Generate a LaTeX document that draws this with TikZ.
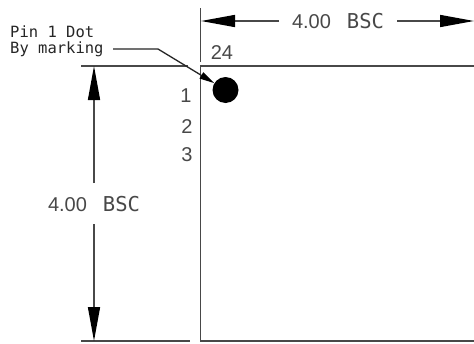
\documentclass[tikz,border=0pt]{standalone}
\usepackage{fontspec}
\setmainfont{Liberation Sans}
\newfontfamily\plotfont{DejaVu Sans Mono}
\usetikzlibrary{arrows.meta}
\definecolor{inkgray}{HTML}{484848}
\tikzset{
  outline/.style={draw=inkgray,line width=1.7pt},
  dimline/.style={
    draw=inkgray,
    line width=1.5pt,
    -{Triangle[length=34pt,width=12pt,color=black]},
  },
  leader/.style={
    draw=black!85,
    line width=1.3pt,
    -{Triangle[length=15pt,width=7pt,color=black]},
  },
  dimtext/.style={text=inkgray,font=\fontsize{20}{20}\selectfont,inner sep=0pt},
  pintext/.style={text=inkgray,font=\fontsize{20}{20}\selectfont,inner sep=0pt},
  notetext/.style={text=black!85,font=\plotfont\fontsize{15.5}{15.5}\selectfont,inner sep=0pt,anchor=west},
  pindot/.style={circle,fill=black,minimum size=26pt,inner sep=0pt},
}
\newcommand{\bscdim}{4.00\hspace{16pt}{\plotfont\fontsize{20.5}{20.5}\selectfont BSC}}

\begin{document}
\begin{tikzpicture}[x=1pt,y=-1pt]
    \useasboundingbox[fill=white] (0,0) rectangle (474,343);
    \coordinate (bodyTop) at (200.5,66);
    \coordinate (bodyRight) at (474,66);
    \coordinate (bodyBottom) at (200.5,341);
    \coordinate (bodyCorner) at (474,341);
    \coordinate (extTop) at (200.5,8);
    \coordinate (extTopEnd) at (200.5,62);
    \coordinate (extLeftA) at (81,66);
    \coordinate (extLeftB) at (188,66);
    \coordinate (extLowA) at (81,341);
    \coordinate (extLowB) at (190,341);
    % dimensions
    \node[dimtext] (widthDim) at (338,21) {\bscdim};
    \node[dimtext] (heightDim) at (94,204) {\bscdim};
    \coordinate (widthL) at (279,21);
    \coordinate (widthLTip) at (201,21);
    \coordinate (widthR) at (397,21);
    \coordinate (widthRTip) at (474,21);
    \coordinate (heightU) at (94,183);
    \coordinate (heightUTip) at (94,66);
    \coordinate (heightD) at (94,224);
    \coordinate (heightDTip) at (94,341);
    % pins
    \node[pintext] (pin24) at (222,53) {24};
    \node[pintext] (pin1) at (186,96) {1};
    \node[pintext] (pin2) at (187,127) {2};
    \node[pintext] (pin3) at (187,155) {3};
    \node[pindot] (dot) at (225.5,90) {};
    % note
    \node[notetext] (noteA) at (10,32) {Pin 1 Dot};
    \node[notetext] (noteB) at (10,49) {By marking};
    \coordinate (leadStart) at (113,49);
    \coordinate (leadBend) at (158,49);

    \draw[outline] (extTop) -- (extTopEnd);
    \draw[outline] (bodyRight) -- (bodyTop) -- (bodyBottom) -- (bodyCorner);
    \draw[outline] (extLeftA) -- (extLeftB);
    \draw[outline] (extLowA) -- (extLowB);
    \draw[dimline] (widthL) -- (widthLTip);
    \draw[dimline] (widthR) -- (widthRTip);
    \draw[dimline] (heightU) -- (heightUTip);
    \draw[dimline] (heightD) -- (heightDTip);
    \draw[leader] (leadStart) -- (leadBend) -- (dot);
\end{tikzpicture}
\end{document}
